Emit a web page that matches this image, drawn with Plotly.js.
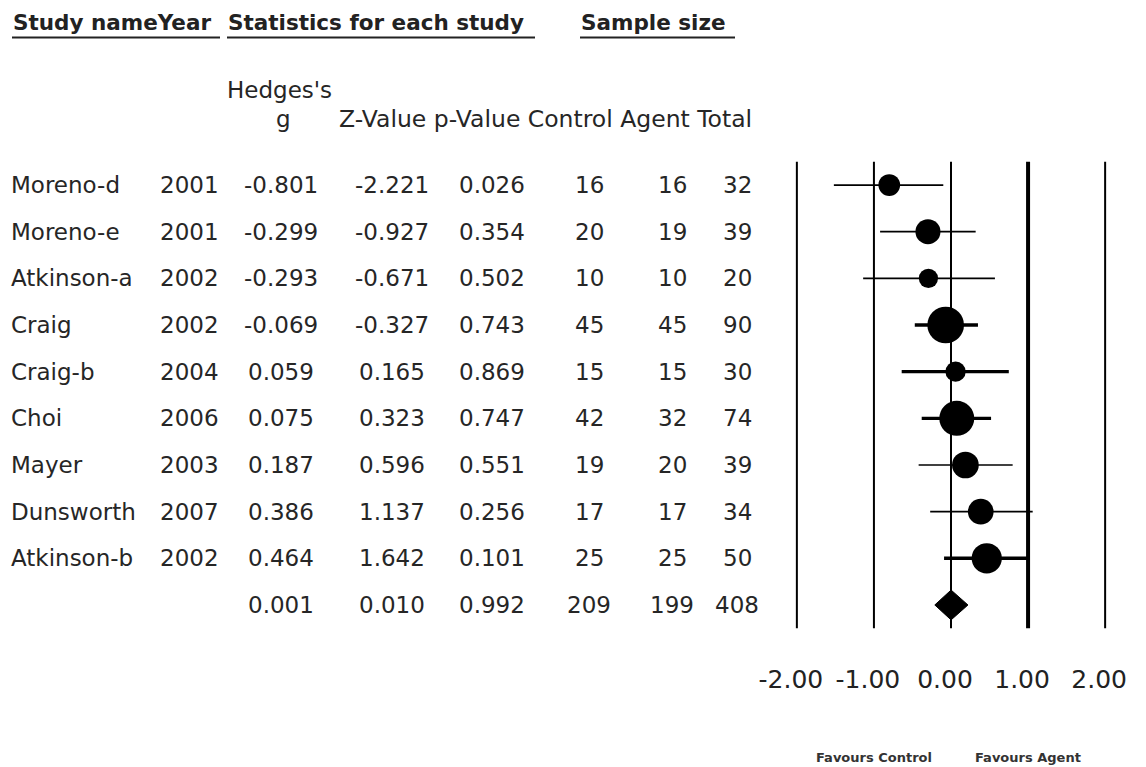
<!DOCTYPE html>
<html>
<head>
<meta charset="utf-8">
<script src="https://cdn.plot.ly/plotly-3.0.1.min.js"></script>
<style>
  html, body { margin: 0; padding: 0; background: #ffffff; }
  #chart { width: 1146px; height: 767px; }
</style>
</head>
<body>
<div id="chart"></div>
<script>
// ---------------- data ----------------
const studies   = ['Moreno-d', 'Moreno-e', 'Atkinson-a', 'Craig', 'Craig-b', 'Choi', 'Mayer', 'Dunsworth', 'Atkinson-b'];
const years     = ['2001', '2001', '2002', '2002', '2004', '2006', '2003', '2007', '2002'];
const hedgesG   = [-0.801, -0.299, -0.293, -0.069, 0.059, 0.075, 0.187, 0.386, 0.464];
const zValues   = [-2.221, -0.927, -0.671, -0.327, 0.165, 0.323, 0.596, 1.137, 1.642];
const pValues   = [0.026, 0.354, 0.502, 0.743, 0.869, 0.747, 0.551, 0.256, 0.101];
const controlN  = [16, 20, 10, 45, 15, 42, 19, 17, 25];
const agentN    = [16, 19, 10, 45, 15, 32, 20, 17, 25];
const totalN    = [32, 39, 20, 90, 30, 74, 39, 34, 50];
const ciLower   = [-1.52, -0.92, -1.14, -0.47, -0.64, -0.38, -0.42, -0.27, -0.09];
const ciUpper   = [-0.10, 0.32, 0.57, 0.35, 0.75, 0.52, 0.80, 1.06, 1.01];
const relWeight = [7.0, 9.3, 5.5, 20.0, 6.1, 18.2, 10.6, 9.8, 13.6];

const summaryG = 0.001, summaryZ = 0.010, summaryP = 0.992;
const summaryN = [209, 199, 408];           // control, agent, total
const summaryCI = [-0.21, 0.22];

const tickValues = [-2, -1, 0, 1, 2];
const tickLabels = ['-2.00', '-1.00', '0.00', '1.00', '2.00'];
const favourLabels = ['Favours Control', 'Favours Agent'];
const favourAt = [-1, 1];
const headerGroups = ['Study nameYear', 'Statistics for each study', 'Sample size'];
const columnHeaders = ['Hedges\'s', 'g', 'Z-Value p-Value Control Agent Total'];

// ---------------- styles ----------------
const W = 1146, H = 767;
const FONT = 'DejaVu Sans';
const TXT = '#262626';
const thickCI = ['Craig', 'Craig-b', 'Choi', 'Atkinson-b'];
const px = v => v / W;           // pixel -> paper x
const py = v => 1 - v / H;       // pixel -> paper y
const nRows = studies.length + 1;
const summaryRow = studies.length;

// ---------------- traces ----------------
const thinX = [], thinY = [], thickX = [], thickY = [];
studies.forEach((s, i) => {
  const isThick = thickCI.includes(s);
  (isThick ? thickX : thinX).push(ciLower[i], ciUpper[i], null);
  (isThick ? thickY : thinY).push(i, i, null);
});
const rows = studies.map((_, i) => i);

const traces = [
  { type: 'scatter', mode: 'lines', x: thinX, y: thinY, line: { color: '#000', width: 1.7 }, hoverinfo: 'skip' },
  { type: 'scatter', mode: 'lines', x: thickX, y: thickY, line: { color: '#000', width: 3.4 }, hoverinfo: 'skip' },
  { type: 'scatter', mode: 'markers', x: hedgesG, y: rows,
    marker: { color: '#000', opacity: 1, symbol: 'circle', size: relWeight.map(w => 8.2 * Math.sqrt(w)), line: { width: 0 } } },
  { type: 'scatter', mode: 'lines', fill: 'toself', fillcolor: '#000',
    x: [summaryCI[0], summaryG, summaryCI[1], summaryG, summaryCI[0]],
    y: [summaryRow, summaryRow - 0.32, summaryRow, summaryRow + 0.32, summaryRow],
    line: { color: '#000', width: 1 } }
];

// ---------------- shapes ----------------
const shapes = tickValues.map(v => ({
  type: 'line', xref: 'x', yref: 'y domain', x0: v, x1: v, y0: 0, y1: 1,
  layer: 'below', line: { color: '#000', width: v === 1 ? 4 : 2 }
}));
[[12, 220], [227, 535], [580, 735]].forEach(([a, b]) => shapes.push({
  type: 'line', xref: 'paper', yref: 'paper', x0: px(a), x1: px(b), y0: py(37.5), y1: py(37.5),
  line: { color: '#222', width: 2 }
}));

// ---------------- annotations ----------------
const ann = [];
function addText(text, x, y, anchor) {
  ann.push({
    text: text, x: px(x), y: y, xref: 'paper', yref: 'y', xanchor: anchor, yanchor: 'middle',
    showarrow: false, borderpad: 0, font: { family: FONT, size: 23, color: TXT }
  });
}
// header groups (bold)
[[12, 0], [227, 1], [580, 2]].forEach(([x, k]) => ann.push({
  text: headerGroups[k], x: px(x), y: py(23), xref: 'paper', yref: 'paper',
  xanchor: 'left', yanchor: 'middle', showarrow: false, borderpad: 0,
  font: { family: FONT, size: 21.5, color: '#222', weight: 'bold' }
}));
// column headers
ann.push({ text: columnHeaders[0], x: px(279), y: py(90), xref: 'paper', yref: 'paper', xanchor: 'center', yanchor: 'middle',
  showarrow: false, borderpad: 0, font: { family: FONT, size: 23, color: TXT } });
ann.push({ text: columnHeaders[1], x: px(283), y: py(119), xref: 'paper', yref: 'paper', xanchor: 'center', yanchor: 'middle',
  showarrow: false, borderpad: 0, font: { family: FONT, size: 23, color: TXT } });
ann.push({ text: columnHeaders[2], x: px(338), y: py(119), xref: 'paper', yref: 'paper', xanchor: 'left', yanchor: 'middle',
  showarrow: false, borderpad: 0, font: { family: FONT, size: 23.5, color: TXT } });

// study rows
studies.forEach((s, i) => {
  addText(s, 10, i, 'left');
  addText(years[i], 189, i, 'center');
  addText(hedgesG[i].toFixed(3), 281, i, 'center');
  addText(zValues[i].toFixed(3), 392, i, 'center');
  addText(pValues[i].toFixed(3), 492, i, 'center');
  addText(String(controlN[i]), 589, i, 'center');
  addText(String(agentN[i]), 672, i, 'center');
  addText(String(totalN[i]), 737, i, 'center');
});
// summary row
addText(summaryG.toFixed(3), 281, summaryRow, 'center');
addText(summaryZ.toFixed(3), 392, summaryRow, 'center');
addText(summaryP.toFixed(3), 492, summaryRow, 'center');
addText(String(summaryN[0]), 589, summaryRow, 'center');
addText(String(summaryN[1]), 672, summaryRow, 'center');
addText(String(summaryN[2]), 737, summaryRow, 'center');

// favours labels
favourLabels.forEach((t, k) => ann.push({
  text: t, x: favourAt[k], xref: 'x', y: py(757), yref: 'paper', xanchor: 'center', yanchor: 'middle',
  showarrow: false, borderpad: 0, font: { family: FONT, size: 13, color: '#333', weight: 'bold' }
}));

// ---------------- layout ----------------
const xLeft = 777.6, xRight = 1124.4;     // pixel extent of the forest panel
const yTop = 161.7, yBottom = 628.3;
const layout = {
  width: W, height: H,
  margin: { l: 0, r: 0, t: 0, b: 0, pad: 0 },
  paper_bgcolor: '#ffffff', plot_bgcolor: '#ffffff',
  showlegend: false,
  xaxis: {
    domain: [px(xLeft), px(xRight)], range: [-2.25, 2.25], fixedrange: true,
    tickmode: 'array', tickvals: tickValues, ticktext: tickLabels,
    tickfont: { family: FONT, size: 25, color: '#222' },
    showgrid: false, zeroline: false, showline: false, ticks: '',
    ticklabelshift: -6, ticklabelstandoff: 34
  },
  yaxis: {
    domain: [py(yBottom), py(yTop)], range: [nRows - 0.5, -0.5], fixedrange: true,
    showgrid: false, zeroline: false, showline: false, showticklabels: false, ticks: ''
  },
  shapes: shapes,
  annotations: ann
};

Plotly.newPlot('chart', traces, layout, { staticPlot: true, displayModeBar: false });
</script>
</body>
</html>
